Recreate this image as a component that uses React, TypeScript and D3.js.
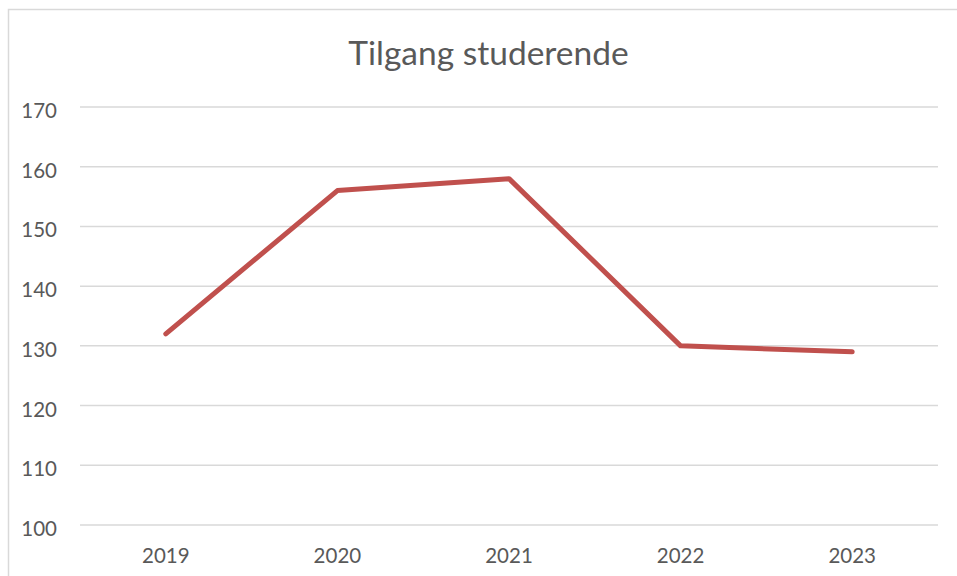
import React from "react";
import * as d3 from "d3";

const years = ["2019", "2020", "2021", "2022", "2023"];
const values = [132, 156, 158, 130, 129];
const yTicks = [100, 110, 120, 130, 140, 150, 160, 170];
const title = "Tilgang studerende";

export default function App() {
  const W = 957, H = 576;
  const left = 80, right = 938, top = 107, bottom = 525;
  const x = d3.scaleBand<string>().domain(years).range([left, right]);
  const y = d3.scaleLinear().domain([100, 170]).range([bottom, top]);
  const line = d3
    .line<number>()
    .x((_, i) => (x(years[i]) as number) + x.bandwidth() / 2)
    .y((d) => y(d));
  const font = "Lato, 'Open Sans', sans-serif";
  return (
    <svg
      width={W}
      height={H}
      style={{ position: "absolute", left: 0, top: 0, background: "#fff" }}
      fontFamily={font}
    >
      <rect x={8.5} y={9.5} width={W} height={H} fill="#fff" stroke="#d9d9d9" strokeWidth={1.5} />
      <text x={488.5} y={65} textAnchor="middle" fontSize={33.5} fill="#595959">
        {title}
      </text>
      {yTicks.map((t) => (
        <g key={t}>
          <line x1={left} x2={right} y1={y(t)} y2={y(t)} stroke="#d9d9d9" strokeWidth={1.5} />
          <text x={57} y={y(t) + 11} textAnchor="end" fontSize={20.5} fill="#595959">
            {t}
          </text>
        </g>
      ))}
      {years.map((yr) => (
        <text
          key={yr}
          x={(x(yr) as number) + x.bandwidth() / 2}
          y={563}
          textAnchor="middle"
          fontSize={20.5}
          fill="#595959"
        >
          {yr}
        </text>
      ))}
      <path
        d={line(values) || ""}
        fill="none"
        stroke="#c0504d"
        strokeWidth={5}
        strokeLinecap="round"
        strokeLinejoin="round"
      />
    </svg>
  );
}
